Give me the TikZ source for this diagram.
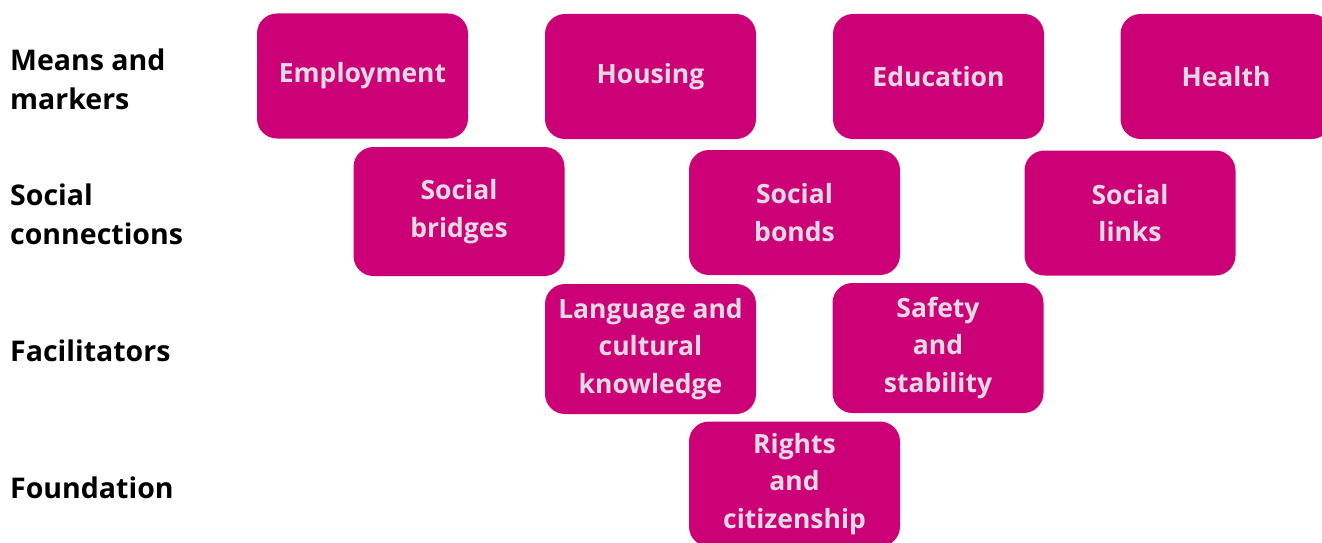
\documentclass[tikz,border=0pt]{standalone}
\usepackage{fontspec}
\setmainfont{Open Sans}
\usepackage{tikz}

\definecolor{barpink}{HTML}{CC0077}
\definecolor{bartext}{HTML}{E2DAE2}

\begin{document}
\begin{tikzpicture}[x=1pt,y=-1pt,
  every node/.style={font=\fontsize{26.5}{37.5}\selectfont\bfseries},
  block/.style={fill=barpink, text=bartext, rounded corners=20pt, minimum width=211pt, minimum height=125pt, align=center, inner sep=0pt},
  level/.style={anchor=west, align=left, text=black, inner sep=0pt, font=\fontsize{28.5}{39}\selectfont\bfseries}]

\useasboundingbox (0,0) rectangle (1322,543);

% Row labels
\node[level] (means) at (10,79) {Means and\\markers};
\node[level] (social) at (10,214) {Social\\connections};
\node[level] (facil) at (10,351) {Facilitators};
\node[level] (found) at (10,488) {Foundation};

% Means and markers
\node[block] (employ) at (362.5,76) {Employment};
\node[block] (housing) at (650.5,76.5) {Housing};
\node[block] (educ) at (938.5,76.5) {Education};
\node[block] (health) at (1226,76.5) {Health};

% Social connections
\node[block, minimum height=129pt] (bridges) at (459,211.5) {Social\\bridges};
\node[block] (bonds) at (794.5,212.5) {Social\\bonds};
\node[block] (links) at (1130,213) {Social\\links};

% Facilitators
\node[block, minimum height=130pt] (lang) at (650.5,349) {Language and\\cultural\\knowledge};
\node[block, minimum height=130pt] (safety) at (938,348) {Safety\\and\\stability};

% Foundation
\node[block] (rights) at (794.5,484) {Rights\\and\\citizenship};

\end{tikzpicture}
\end{document}
